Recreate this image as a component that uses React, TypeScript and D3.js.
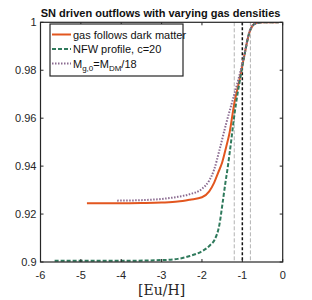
import { useEffect, useRef } from "react";
import * as d3 from "d3";

const xTicks = [-6, -5, -4, -3, -2, -1, 0];
const yTicks = [0.9, 0.92, 0.94, 0.96, 0.98, 1];

// [Eu/H], fraction
const gasFollowsDM: [number, number][] = [
  [-4.85, 0.9245], [-4, 0.9245], [-3.5, 0.9246], [-3, 0.9248], [-2.6, 0.9252],
  [-2.3, 0.926], [-2.0, 0.927], [-1.82, 0.9295], [-1.7, 0.933], [-1.6, 0.9372],
  [-1.5, 0.9415], [-1.4, 0.948], [-1.32, 0.9536], [-1.2, 0.9661], [-1.07, 0.976],
  [-0.95, 0.9862], [-0.83, 0.9955], [-0.75, 0.9985], [-0.66, 0.9997], [-0.5, 1], [-0.1, 1],
];
const nfwProfile: [number, number][] = [
  [-5.65, 0.9005], [-4, 0.9005], [-3, 0.9008], [-2.6, 0.9013], [-2.3, 0.9025],
  [-2.0, 0.9045], [-1.8, 0.907], [-1.69, 0.9092], [-1.57, 0.9154], [-1.49, 0.9245],
  [-1.42, 0.933], [-1.36, 0.9397], [-1.28, 0.95], [-1.2, 0.961], [-1.07, 0.975],
  [-0.95, 0.986], [-0.83, 0.9955], [-0.7, 0.9992], [-0.5, 1], [-0.1, 1],
];
const lowGasMass: [number, number][] = [
  [-4.1, 0.9256], [-3.5, 0.9258], [-3, 0.9263], [-2.6, 0.9272], [-2.3, 0.9283],
  [-2.0, 0.9305], [-1.82, 0.934], [-1.7, 0.9385], [-1.57, 0.9465], [-1.4, 0.9578],
  [-1.24, 0.9675], [-1.1, 0.976], [-0.95, 0.9865], [-0.83, 0.9958], [-0.7, 0.9993],
  [-0.5, 1], [-0.1, 1],
];
const grayMarkers = [-1.2, -0.8];
const blackMarker = -1;

const font = "'Liberation Sans', Arial, sans-serif";

const App = () => {
  const ref = useRef<SVGSVGElement>(null);

  useEffect(() => {
    if (!ref.current) return;
    const svg = d3.select(ref.current);
    svg.selectAll("*").remove();

    const left = 40.5, right = 282.7, top = 22.3, bottom = 262;
    const x = d3.scaleLinear().domain([-6, 0]).range([left, right]);
    const y = d3.scaleLinear().domain([0.9, 1]).range([bottom, top]);

    svg.append("rect").attr("width", 312).attr("height", 300).attr("fill", "white");

    const plot = svg.append("g");
    plot.append("clipPath").attr("id", "clip")
      .append("rect").attr("x", left).attr("y", top).attr("width", right - left).attr("height", bottom - top);

    // marker lines
    grayMarkers.forEach((v) => {
      plot.append("line")
        .attr("x1", x(v)).attr("x2", x(v)).attr("y1", top).attr("y2", bottom)
        .attr("stroke", "#a0a0a0").attr("stroke-width", 0.8).attr("stroke-dasharray", "4,2");
    });
    plot.append("line")
      .attr("x1", x(blackMarker)).attr("x2", x(blackMarker)).attr("y1", top).attr("y2", bottom)
      .attr("stroke", "#111").attr("stroke-width", 1.5).attr("stroke-dasharray", "3,2");

    const line = d3.line<[number, number]>()
      .x((d) => x(d[0])).y((d) => y(d[1])).curve(d3.curveMonotoneX);

    const series = [
      { data: gasFollowsDM, color: "#e2561f", width: 2, dash: null as string | null },
      { data: nfwProfile, color: "#2f7a5c", width: 2, dash: "4,2" },
      { data: lowGasMass, color: "#8a6a90", width: 2, dash: "1.5,1.5" },
    ];
    const g = plot.append("g").attr("clip-path", "url(#clip)");
    series.forEach((s) => {
      const p = g.append("path").attr("d", line(s.data)).attr("fill", "none")
        .attr("stroke", s.color).attr("stroke-width", s.width);
      if (s.dash) p.attr("stroke-dasharray", s.dash);
    });

    // frame & ticks
    const axisColor = "#262626";
    plot.append("rect").attr("x", left).attr("y", top).attr("width", right - left).attr("height", bottom - top)
      .attr("fill", "none").attr("stroke", axisColor).attr("stroke-width", 1.2);
    const tl = 3;
    xTicks.forEach((t) => {
      plot.append("line").attr("x1", x(t)).attr("x2", x(t)).attr("y1", bottom).attr("y2", bottom - tl).attr("stroke", axisColor);
      plot.append("line").attr("x1", x(t)).attr("x2", x(t)).attr("y1", top).attr("y2", top + tl).attr("stroke", axisColor);
      plot.append("text").attr("x", x(t)).attr("y", 279).attr("text-anchor", "middle")
        .attr("font-family", font).attr("font-size", 11).attr("fill", axisColor).text(t);
    });
    yTicks.forEach((t) => {
      plot.append("line").attr("x1", left).attr("x2", left + tl).attr("y1", y(t)).attr("y2", y(t)).attr("stroke", axisColor);
      plot.append("line").attr("x1", right).attr("x2", right - tl).attr("y1", y(t)).attr("y2", y(t)).attr("stroke", axisColor);
      plot.append("text").attr("x", left - 4).attr("y", y(t) + 4).attr("text-anchor", "end")
        .attr("font-family", font).attr("font-size", 11).attr("fill", axisColor).text(d3.format("")(+t.toFixed(2)));
    });

    svg.append("text").attr("x", (left + right) / 2).attr("y", 295).attr("text-anchor", "middle")
      .attr("font-family", "'DejaVu Serif', 'Liberation Serif', serif").attr("font-size", 14).attr("fill", axisColor)
      .text("[Eu/H]");

    svg.append("text").attr("x", (left + right) / 2 - 1).attr("y", 17).attr("text-anchor", "middle")
      .attr("font-family", font).attr("font-size", 11).attr("font-weight", "bold").attr("fill", "#111")
      .text("SN driven outflows with varying gas densities");

    // legend
    const lg = svg.append("g");
    lg.append("rect").attr("x", 50).attr("y", 24).attr("width", 133).attr("height", 52)
      .attr("fill", "white").attr("stroke", axisColor).attr("stroke-width", 1.2);
    const labels = ["gas follows dark matter", "NFW profile, c=20", ""];
    series.forEach((s, i) => {
      const yy = 34.5 + i * 14.5;
      const l = lg.append("line").attr("x1", 52).attr("x2", 71).attr("y1", yy).attr("y2", yy)
        .attr("stroke", s.color).attr("stroke-width", s.width);
      if (s.dash) l.attr("stroke-dasharray", s.dash);
      const tx = lg.append("text").attr("x", 73).attr("y", yy + 4).attr("font-family", font)
        .attr("font-size", 11).attr("fill", "#111");
      if (i < 2) tx.text(labels[i]);
      else {
        tx.append("tspan").text("M");
        tx.append("tspan").attr("font-size", 8).attr("dy", 3).text("g,0");
        tx.append("tspan").attr("dy", -3).text("=M");
        tx.append("tspan").attr("font-size", 8).attr("dy", 3).text("DM");
        tx.append("tspan").attr("dy", -3).text("/18");
      }
    });
  }, []);

  return <svg ref={ref} width={312} height={300} style={{ position: "absolute", left: 0, top: 0 }} />;
};

export default App;
